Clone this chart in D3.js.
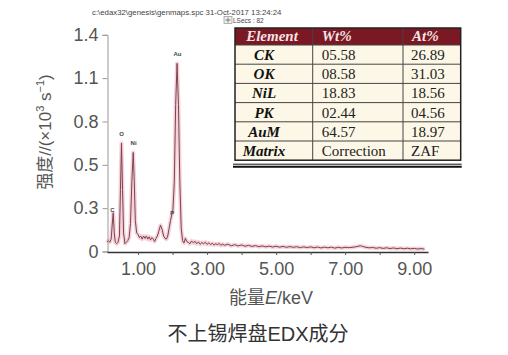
<!DOCTYPE html>
<html>
<head>
<meta charset="utf-8">
<script src="https://cdn.jsdelivr.net/npm/d3@7"></script>
<style>
html,body{margin:0;padding:0;background:#fff;}
svg{display:block;}
</style>
</head>
<body>
<svg id="chart" width="508" height="355"></svg>
<script>
// ---------- DATA ----------
const energyKeV = [0.10,0.14,0.18,0.22,0.25,0.28,0.31,0.34,0.38,0.42,0.46,0.49,0.52,0.55,0.58,0.62,0.66,0.70,0.74,0.78,0.82,0.86,0.89,0.92,0.96,
  1.00,1.04,1.08,1.12,1.16,1.20,1.24,1.28,1.32,1.36,1.40,1.44,1.48,1.52,1.56,1.60,1.65,1.70,1.74,1.78,1.82,1.86,1.90,1.94,1.98,2.01,2.05,2.09,2.13,2.17,2.21,2.25,2.29,2.33,2.37,2.41,2.45,
  2.50,2.55,2.60,2.65,2.70,2.75,2.80,2.85,2.90,2.95,3.00,3.05,3.10,3.15,3.20,3.25,3.30,3.35,3.40,3.45,3.50,3.60,3.70,3.80,3.90,4.00,4.10,4.20,4.30,4.40,4.50,4.60,4.70,4.80,4.90,
  5.00,5.10,5.20,5.30,5.40,5.50,5.60,5.70,5.80,5.90,6.00,6.10,6.20,6.30,6.40,6.50,6.60,6.70,6.80,6.90,7.00,7.10,7.20,7.30,7.40,7.45,7.50,7.60,7.70,7.80,7.90,
  8.00,8.10,8.20,8.30,8.40,8.50,8.60,8.70,8.80,8.90,9.00,9.10,9.20,9.30];
const intensity = [0.06,0.07,0.06,0.08,0.17,0.25,0.12,0.06,0.05,0.06,0.10,0.40,0.70,0.40,0.12,0.05,0.06,0.07,0.09,0.18,0.45,0.64,0.45,0.20,0.12,
  0.11,0.09,0.10,0.08,0.10,0.085,0.10,0.08,0.095,0.075,0.09,0.08,0.065,0.085,0.10,0.13,0.17,0.14,0.10,0.085,0.08,0.10,0.15,0.20,0.24,0.27,0.45,0.95,1.215,0.95,0.45,0.15,0.07,0.055,0.085,0.065,0.06,
  0.05,0.068,0.056,0.066,0.05,0.062,0.047,0.058,0.05,0.06,0.046,0.056,0.045,0.053,0.042,0.05,0.044,0.052,0.04,0.048,0.04,0.047,0.037,0.044,0.036,0.042,0.034,0.04,0.033,0.038,0.031,0.036,0.03,0.035,0.029,
  0.034,0.028,0.033,0.027,0.032,0.027,0.031,0.025,0.03,0.025,0.03,0.024,0.029,0.023,0.028,0.024,0.028,0.022,0.027,0.023,0.027,0.025,0.027,0.03,0.035,0.037,0.033,0.027,0.024,0.026,0.021,
  0.025,0.02,0.024,0.019,0.023,0.018,0.022,0.018,0.021,0.017,0.02,0.016,0.019,0.015];

const peakLabels = ["C","O","Ni","P","Au"];
const peakEnergy = [0.26,0.52,0.87,1.99,2.14];
const peakLabelLevel = [0.255,0.745,0.685,0.235,1.265];

const yTickValues = [0,0.28,0.56,0.84,1.12,1.4];
const yTickLabels = ["0","0.3","0.5","0.8","1.1","1.4"];
const xTickValues = [1,2,3,4,5,6,7,8,9];
const xTickLabels = ["1.00","","3.00","","5.00","","7.00","","9.00"];

const tableHeader = ["Element","Wt%","At%"];
const tableElements = ["CK","OK","NiL","PK","AuM","Matrix"];
const tableWt = ["05.58","08.58","18.83","02.44","64.57","Correction"];
const tableAt = ["26.89","31.03","18.56","04.56","18.97","ZAF"];

// ---------- DRAW ----------
const svg = d3.select("#chart");
const x = d3.scaleLinear().domain([0.1, 9.4]).range([107, 428]);
const y = d3.scaleLinear().domain([0, 1.4]).range([251.5, 34.8]);

// header texts
svg.append("text").attr("x",92).attr("y",14.5).attr("font-family","Liberation Sans, Arial, sans-serif")
  .attr("font-size",7.8).attr("fill","#444").text("c:\\edax32\\genesis\\genmaps.spc  31-Oct-2017 13:24:24");
svg.append("rect").attr("x",224).attr("y",16.5).attr("width",8).attr("height",7).attr("fill","#eee").attr("stroke","#888").attr("stroke-width",0.6);
svg.append("path").attr("d","M228,17.5V22.5M225.5,20H230.5").attr("stroke","#555").attr("stroke-width",0.7);
svg.append("text").attr("x",233).attr("y",22.5).attr("font-family","Liberation Sans, Arial, sans-serif")
  .attr("font-size",6.5).attr("fill","#444").text("LSecs : 82");

// spectrum
const pts = energyKeV.map((e,i)=>[e,intensity[i]]);
const line = d3.line().x(d=>x(d[0])).y(d=>y(d[1]));
svg.append("path").datum(pts).attr("d",line).attr("fill","none")
  .attr("stroke","#f2c6cf").attr("stroke-width",4).attr("stroke-linejoin","round").attr("opacity",0.8);
svg.append("path").datum(pts).attr("d",line).attr("fill","none")
  .attr("stroke","#7e4450").attr("stroke-width",1).attr("stroke-linejoin","round");

// peak labels
svg.selectAll(".pl").data(peakLabels).enter().append("text")
  .attr("x",(d,i)=>x(peakEnergy[i])).attr("y",(d,i)=>y(peakLabelLevel[i]))
  .attr("text-anchor","middle").attr("font-family","Liberation Sans, Arial, sans-serif")
  .attr("font-size",6).attr("font-weight","bold").attr("fill","#444").text(d=>d);

// y axis
const yAxis = d3.axisLeft(y).tickValues(yTickValues).tickSize(5).tickFormat((d,i)=>yTickLabels[i]);
const gy = svg.append("g").attr("transform","translate(107.5,0)").call(yAxis);
gy.select(".domain").attr("stroke","#999");
gy.selectAll(".tick line").attr("stroke","#999");
gy.selectAll(".tick text").attr("font-family","Liberation Sans, Arial, sans-serif").attr("font-size",18)
  .attr("fill","#555").attr("x",-9);

// x axis
const xAxis = d3.axisBottom(x).tickValues(xTickValues).tickSize(3).tickSizeOuter(0).tickFormat((d,i)=>xTickLabels[i]);
const gx = svg.append("g").attr("transform","translate(0,252)").call(xAxis);
gx.select(".domain").attr("stroke","#333").attr("stroke-width",1.5);
gx.selectAll(".tick line").attr("stroke","#555");
gx.selectAll(".tick text").attr("font-family","Liberation Sans, Arial, sans-serif").attr("font-size",18)
  .attr("fill","#555").attr("dy","0.95em");

// y title
svg.append("text").attr("transform","translate(51,132) rotate(-90)").attr("text-anchor","middle")
  .attr("font-family","Liberation Sans, 'Noto Sans CJK SC', sans-serif").attr("font-size",17).attr("fill","#555")
  .html('强度//(×10<tspan dy="-7" font-size="11">3</tspan><tspan dy="7"> s</tspan><tspan dy="-7" font-size="11">−1</tspan><tspan dy="7">)</tspan>');

// x title
svg.append("text").attr("x",271).attr("y",304).attr("text-anchor","middle")
  .attr("font-family","Liberation Sans, 'Noto Sans CJK SC', sans-serif").attr("font-size",18).attr("fill","#555")
  .html('能量<tspan font-style="italic">E</tspan>/keV');

// caption
svg.append("text").attr("x",258).attr("y",341).attr("text-anchor","middle")
  .attr("font-family","Liberation Sans, 'Noto Sans CJK SC', sans-serif").attr("font-size",20).attr("fill","#333")
  .text("不上锡焊盘EDX成分");

// ---------- TABLE ----------
const colX = [235, 312.7, 403, 460.7];
const headH = 17, rowH = 19.2, tableTop = 28;
const tg = svg.append("g");
tg.append("rect").attr("x",colX[0]).attr("y",tableTop).attr("width",colX[3]-colX[0]).attr("height",headH).attr("fill","#7a1824");
tg.append("rect").attr("x",colX[0]).attr("y",tableTop+headH).attr("width",colX[3]-colX[0]).attr("height",rowH*tableElements.length).attr("fill","#fcf7e6");
// header text
tg.selectAll(".hd").data(tableHeader).enter().append("text")
  .attr("x",(d,i)=>i===0?272:colX[i]+9).attr("y",tableTop+13)
  .attr("text-anchor",(d,i)=>i===0?"middle":"start")
  .attr("font-family","Liberation Serif, 'Times New Roman', serif").attr("font-size",15)
  .attr("font-weight","bold").attr("font-style","italic").attr("fill","#f6e4e4").text(d=>d);
// rows
tableElements.forEach((el,i)=>{
  const yy = tableTop+headH+rowH*i+15;
  tg.append("text").attr("x",264).attr("y",yy).attr("text-anchor","middle")
    .attr("font-family","Liberation Serif, 'Times New Roman', serif").attr("font-size",15)
    .attr("font-weight","bold").attr("font-style","italic").attr("fill","#111").text(el);
  tg.append("text").attr("x",colX[1]+9).attr("y",yy)
    .attr("font-family","Liberation Serif, 'Times New Roman', serif").attr("font-size",15).attr("fill","#222").text(tableWt[i]);
  tg.append("text").attr("x",colX[2]+8).attr("y",yy)
    .attr("font-family","Liberation Serif, 'Times New Roman', serif").attr("font-size",15).attr("fill","#222").text(tableAt[i]);
});
// grid lines
const tableBottom = tableTop+headH+rowH*tableElements.length;
d3.range(tableElements.length).forEach(i=>{
  const yy = tableTop+headH+rowH*i;
  tg.append("line").attr("x1",colX[0]).attr("x2",colX[3]).attr("y1",yy).attr("y2",yy).attr("stroke","#444").attr("stroke-width",1);
});
[1,2].forEach(c=>{
  tg.append("line").attr("x1",colX[c]).attr("x2",colX[c]).attr("y1",tableTop).attr("y2",tableBottom).attr("stroke","#444").attr("stroke-width",1);
});
tg.append("rect").attr("x",colX[0]).attr("y",tableTop).attr("width",colX[3]-colX[0]).attr("height",tableBottom-tableTop)
  .attr("fill","none").attr("stroke","#222").attr("stroke-width",1.5);
tg.append("line").attr("x1",colX[0]-2).attr("x2",colX[3]+1).attr("y1",tableBottom+4).attr("y2",tableBottom+4).attr("stroke","#111").attr("stroke-width",1);
tg.append("line").attr("x1",colX[0]-2).attr("x2",colX[3]+1).attr("y1",tableBottom+6.5).attr("y2",tableBottom+6.5).attr("stroke","#111").attr("stroke-width",2);
</script>
</body>
</html>
